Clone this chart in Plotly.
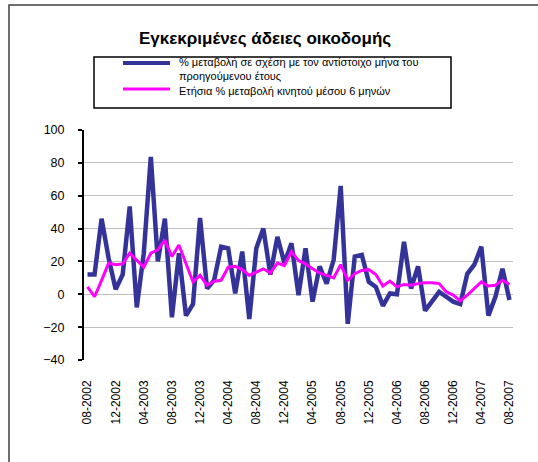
import plotly.graph_objects as go
import pandas as pd

# ---- data ----
months = list(pd.date_range("2002-08-01", "2007-08-01", freq="MS").strftime("%m-%Y"))
tick_labels = ["08-2002", "12-2002", "04-2003", "08-2003", "12-2003", "04-2004",
               "08-2004", "12-2004", "04-2005", "08-2005", "12-2005", "04-2006",
               "08-2006", "12-2006", "04-2007", "08-2007"]

yoy_change = [12, 12, 46, 22, 3, 12, 53.5, -8, 25, 83.6,
              20, 46, -14, 25, -13, -6, 46.5, 3.5, 8.5, 29,
              28, 0.5, 26, -15, 28, 40, 12, 35, 19, 31,
              -0.5, 28, -4.5, 17, 6.5, 21, 66, -18, 23, 24,
              7.5, 4.5, -7, 0.5, 0, 32, 3.5, 17, -10, -4,
              1.5, -1.5, -4.5, -6, 12.5, 18, 29, -13, -1.5, 15.5,
              -3.5]

moving_avg = [4.5, -1.5, 8.5, 19, 18, 18.5, 25, 21, 16.5, 25,
              27, 33, 23, 30, 18.5, 7.5, 11.5, 5.5, 8, 8.5,
              16.5, 17, 15, 11.5, 13.5, 15.5, 13, 19, 17.5, 26,
              20.5, 18.5, 15.5, 13, 11.5, 10, 18, 8.5, 12.5, 14.5,
              15, 12, 5, 8, 4.5, 6, 5.5, 6.5, 7, 7,
              6.5, 1.5, -0.5, -4, -0.5, 3.5, 7.5, 5, 5.5, 8.5,
              6]

series_names = ["% μεταβολή σε σχέση με τον αντίστοιχο μήνα του<br>προηγούμενου έτους",
                "Ετήσια % μεταβολή κινητού μέσου 6 μηνών"]
series_colors = ["#333399", "#FF00FF"]
title_text = "Εγκεκριμένες άδειες οικοδομής"

# ---- layout geometry (pixels) ----
W, H = 538, 462
L, R, T, B = 84, 513, 130, 360


def px2x(px):
    return (px - L) / (R - L)


def py2y(py):
    return (B - py) / (B - T)


FONT = "Liberation Sans, Arial, sans-serif"

fig = go.Figure()
fig.add_trace(go.Scatter(x=months, y=yoy_change, mode="lines", name=series_names[0],
                         line=dict(color=series_colors[0], width=4.5), showlegend=False))
fig.add_trace(go.Scatter(x=months, y=moving_avg, mode="lines", name=series_names[1],
                         line=dict(color=series_colors[1], width=3), showlegend=False))

tickvals = [m for m in months if m in tick_labels]

fig.update_xaxes(type="category", range=[-0.5, len(months) - 0.5],
                 tickmode="array", tickvals=tickvals, ticktext=tick_labels,
                 tickangle=-90, ticks="", showgrid=False, showline=False,
                 zeroline=False, ticklabelstandoff=17,
                 tickfont=dict(family=FONT, size=12, color="black"))
fig.update_yaxes(range=[-40, 100], dtick=20, showgrid=True, gridcolor="#C0C0C0",
                 gridwidth=1, zeroline=False, showline=True, linecolor="black",
                 linewidth=2, ticks="outside", ticklen=4, tickwidth=2,
                 tickcolor="black", ticklabelstandoff=11,
                 tickfont=dict(family=FONT, size=12.5, color="black"))

shapes = []
# outer chart border (clipped by window on right/bottom)
shapes.append(dict(type="rect", xref="paper", yref="paper",
                   x0=px2x(9), x1=px2x(W + 20), y0=py2y(H + 20), y1=py2y(5),
                   line=dict(color="#404040", width=1.5), fillcolor="rgba(0,0,0,0)",
                   layer="below"))
# legend box
shapes.append(dict(type="rect", xref="paper", yref="paper",
                   x0=px2x(94), x1=px2x(451), y0=py2y(108), y1=py2y(57),
                   line=dict(color="black", width=1.5), fillcolor="white"))
legend_rows = [63, 89]
for color, width, row in zip(series_colors, [4, 3], legend_rows):
    shapes.append(dict(type="line", xref="paper", yref="paper",
                       x0=px2x(123), x1=px2x(170), y0=py2y(row), y1=py2y(row),
                       line=dict(color=color, width=width)))

annotations = []
annotations.append(dict(xref="paper", yref="paper", x=px2x(177), y=py2y(76),
                        xanchor="left", yanchor="middle", align="left", showarrow=False,
                        text=series_names[0] + "<br>" + series_names[1],
                        font=dict(family=FONT, size=11, color="black")))
annotations.append(dict(xref="paper", yref="paper", x=px2x(265), y=py2y(38),
                        xanchor="center", yanchor="middle", showarrow=False,
                        text="<b>" + title_text + "</b>",
                        font=dict(family=FONT, size=17, color="black")))

fig.update_layout(width=W, height=H, margin=dict(l=L, r=W - R, t=T, b=H - B),
                  paper_bgcolor="white", plot_bgcolor="white",
                  shapes=shapes, annotations=annotations, showlegend=False)

fig.write_html("out.html", config={"displayModeBar": False},
               post_script="document.body.style.margin='0';document.body.style.overflow='hidden';")
